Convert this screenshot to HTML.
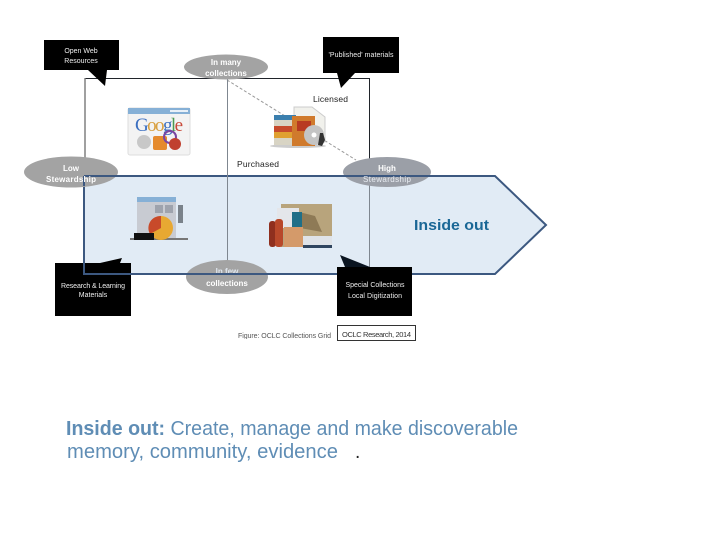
<!DOCTYPE html>
<html>
<head>
<meta charset="utf-8">
<style>
html,body{margin:0;padding:0;background:#fff}
svg{display:block}
text{font-family:"Liberation Sans",sans-serif}
.d{filter:blur(0.35px)}
</style>
</head>
<body>
<svg width="720" height="540" viewBox="0 0 720 540" xmlns="http://www.w3.org/2000/svg">
<rect width="720" height="540" fill="#fff"/>
<g class="d">
<!-- grid -->
<path d="M85 78.500H369.500V176" fill="none" stroke="#20242a" stroke-width="1"/>
<path d="M85 78V176" fill="none" stroke="#777" stroke-width="1.4"/>

<!-- dashed diagonal -->
<line x1="227" y1="80" x2="356" y2="160" stroke="#999" stroke-width="1" stroke-dasharray="3 2"/>

<!-- arrow -->
<path d="M84 176H495L546 225L495 274H84Z" fill="#e1ebf5" stroke="#3c5880" stroke-width="2"/>
<path d="M227.500 78V274" stroke="#7f8790" stroke-width="1" fill="none"/>
<path d="M369.500 176V267" stroke="#7f8790" stroke-width="1" fill="none"/>

<!-- Low -->
<ellipse cx="71" cy="172" rx="47" ry="15.500" fill="#a3a3a3"/>
<path d="M84 176H118" stroke="#3c5880" stroke-width="2"/>
<path d="M84 176V186" stroke="#3c5880" stroke-width="2"/>
<text x="71" y="171" font-size="8" font-weight="bold" fill="#fff" text-anchor="middle">Low</text>
<text x="71" y="182" font-size="8" font-weight="bold" fill="#fff" text-anchor="middle" textLength="50">Stewardship</text>

<!-- High -->
<ellipse cx="387" cy="172" rx="44" ry="15" fill="#9b9fa7"/>
<path d="M343 176H431" stroke="#3c5880" stroke-width="2"/>
<text x="387" y="171" font-size="8" font-weight="bold" fill="#fff" text-anchor="middle">High</text>
<text x="387" y="182" font-size="8" fill="#e8ecf2" text-anchor="middle" textLength="48">Stewardship</text>

<!-- In few -->
<ellipse cx="227" cy="277" rx="41" ry="17" fill="#a3a3a3"/>
<text x="227" y="274" font-size="8" font-weight="bold" fill="#dfe6ee" text-anchor="middle">In few</text>
<path d="M186 274H268" stroke="#3c5880" stroke-width="2"/>
<text x="227" y="286" font-size="8" font-weight="bold" fill="#fff" text-anchor="middle">collections</text>

<!-- In many -->
<ellipse cx="226" cy="67" rx="42" ry="12.500" fill="#a3a3a3"/>
<text x="226" y="65" font-size="8" font-weight="bold" fill="#fff" text-anchor="middle">In many</text>
<text x="226" y="76" font-size="8" font-weight="bold" fill="#fff" text-anchor="middle">collections</text>

<!-- callouts -->
<path d="M44 40H119V70H107L105 86L88 70H44Z" fill="#000"/>
<text x="81" y="53" font-size="7" fill="#eee" text-anchor="middle">Open Web</text>
<text x="81" y="63" font-size="7" fill="#eee" text-anchor="middle">Resources</text>

<path d="M323 37H399V73H355L341 88L337 73H323Z" fill="#000"/>
<text x="361" y="57" font-size="7" fill="#eee" text-anchor="middle" textLength="65">'Published' materials</text>

<path d="M55 263H100L122 258L120 263H131V316H55Z" fill="#000"/>
<path d="M84 263V274H131" fill="none" stroke="#3c5880" stroke-width="2"/>
<text x="93" y="288" font-size="7" fill="#eee" text-anchor="middle" textLength="64">Research &amp; Learning</text>
<text x="93" y="297" font-size="7" fill="#eee" text-anchor="middle">Materials</text>

<path d="M337 267H370L340 255L345 267Z" fill="#0a1420"/>
<rect x="337" y="267" width="75" height="49" fill="#000"/>
<text x="375" y="287" font-size="7" fill="#eee" text-anchor="middle" textLength="59">Special Collections</text>
<text x="375" y="298" font-size="7" fill="#eee" text-anchor="middle" textLength="54">Local Digitization</text>

<!-- labels -->
<text x="237" y="167" font-size="8.500" fill="#222" textLength="42">Purchased</text>
<text x="313" y="102" font-size="8.500" fill="#222" textLength="35">Licensed</text>

<!-- google icon -->
<rect x="128" y="108" width="62" height="47" rx="2" fill="#f3f3f3" stroke="#ddd" stroke-width="1"/>
<rect x="128" y="108" width="62" height="6" fill="#86b0d6"/>
<rect x="170" y="110" width="18" height="2" fill="#e8f0f8"/>
<text x="159" y="131" font-size="19" text-anchor="middle" style="font-family:'Liberation Serif',serif" textLength="48"><tspan fill="#3b6fc0">G</tspan><tspan fill="#d8a040">oo</tspan><tspan fill="#3b6fc0">g</tspan><tspan fill="#4a9a50">l</tspan><tspan fill="#c84a3a">e</tspan></text>
<circle cx="144" cy="142" r="7" fill="#c8c8c8"/>
<rect x="153" y="136" width="14" height="14" rx="2" fill="#e58a2c"/>
<circle cx="170" cy="137" r="6" fill="none" stroke="#7a45a0" stroke-width="2"/>
<circle cx="175" cy="144" r="6" fill="#c0402f"/>

<!-- licensed icon -->
<path d="M294 107H312L325 117V142H294Z" fill="#f1f1ec" stroke="#ccc" stroke-width="1"/>
<ellipse cx="298" cy="146" rx="28" ry="2" fill="#ccc"/>
<rect x="274" y="115" width="22" height="5" fill="#3b7fae"/>
<rect x="274" y="120" width="22" height="6" fill="#d8d4c4"/>
<rect x="274" y="126" width="22" height="6" fill="#c64a2c"/>
<rect x="274" y="132" width="22" height="6" fill="#e0a030"/>
<rect x="274" y="138" width="22" height="7" fill="#d8d4c4"/>
<rect x="292" y="116" width="23" height="30" fill="#d07a2c"/>
<rect x="297" y="121" width="14" height="10" fill="#b83a22"/>
<circle cx="314" cy="135" r="10" fill="#c4c4c4"/>
<circle cx="314" cy="135" r="2.500" fill="#fff"/>
<path d="M318 145L320 133L323 133L325 140L322 146Z" fill="#333"/>

<!-- research icon -->
<rect x="137" y="197" width="39" height="43" fill="#c8cbd2"/>
<rect x="137" y="197" width="39" height="5" fill="#86b0d6"/>
<rect x="155" y="205" width="8" height="8" fill="#9ea3ad"/>
<rect x="165" y="205" width="8" height="8" fill="#9ea3ad"/>
<path d="M178 205h5v18h-5z" fill="#7a828a"/>
<rect x="130" y="238" width="58" height="2" fill="#777"/>
<circle cx="161" cy="228" r="12" fill="#e8a832"/>
<path d="M161 228V216A12 12 0 0 0 150 234Z" fill="#c84a2a"/>
<rect x="134" y="233" width="20" height="7" fill="#111"/>

<!-- purchased icon -->
<rect x="281" y="204" width="51" height="43" fill="#b8a47c"/>
<path d="M291 210L315 216L322 232L300 228Z" fill="#8e7a56"/>
<rect x="277" y="208" width="22" height="20" fill="#e4e6ea"/>
<rect x="292" y="212" width="10" height="28" fill="#1f6f88"/>
<rect x="269" y="221" width="7" height="26" rx="3" fill="#8f2f1e"/>
<rect x="275" y="219" width="8" height="28" rx="3" fill="#b8482a"/>
<rect x="284" y="227" width="19" height="20" fill="#d49a6a"/>
<path d="M303 236H332V247H303Z" fill="#dfe3e8"/>
<path d="M303 245H332V248H303Z" fill="#30455f"/>

<!-- caption -->
<text x="238" y="338" font-size="7" fill="#555" textLength="93">Figure: OCLC Collections Grid</text>
<rect x="337.500" y="325.500" width="78" height="15" fill="#fff" stroke="#333" stroke-width="1"/>
<text x="342" y="337" font-size="7.500" fill="#333" textLength="69">OCLC Research, 2014</text>
<rect x="230" y="339" width="105" height="6" fill="#fff"/>
</g>

<text x="414" y="230" font-size="15" font-weight="bold" fill="#1a6796" textLength="75" lengthAdjust="spacingAndGlyphs">Inside out</text>

<!-- bottom text -->
<text x="66" y="435" font-size="20" fill="#5f8db5" textLength="452" lengthAdjust="spacingAndGlyphs"><tspan font-weight="bold">Inside out:</tspan> Create, manage and make discoverable</text>
<text x="67" y="458" font-size="20" fill="#5f8db5" textLength="271" lengthAdjust="spacingAndGlyphs">memory, community, evidence</text>
<text x="355" y="458" font-size="19" fill="#222">.</text>
</svg>
</body>
</html>
